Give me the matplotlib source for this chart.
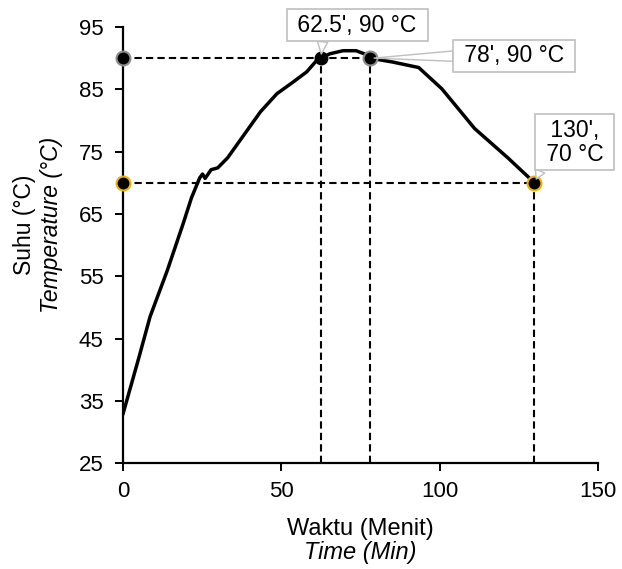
import matplotlib.pyplot as plt

plt.rcParams['font.family'] = ['Liberation Sans', 'DejaVu Sans']

# temperature profile
time_min = [0, 5, 8.5, 14, 19, 21.6, 24.2, 25.1, 25.9, 27.8, 29.9, 33, 38.2, 43.4, 48.6,
            53.8, 58, 61.1, 62.5, 65.3, 69.5, 73.6, 76.2, 78, 85, 93.4, 100.7, 111.1, 121.6, 130]
temp_c = [33, 42, 48.5, 56, 63.5, 67.6, 70.8, 71.4, 70.7, 72.1, 72.4, 74, 77.7, 81.4, 84.3,
          86.2, 87.8, 89.6, 90, 90.7, 91.2, 91.2, 90.7, 90, 89.4, 88.5, 85.1, 78.7, 74, 70]

# marked points and their callouts
mark_t = [62.5, 78, 130]
mark_T = [90, 90, 70]
mark_labels = [" 62.5', 90 °C ", " 78', 90 °C ", " 130', \n 70 °C "]
label_pos = [(74.0, 95.3), (123.6, 90.35), (142.7, 76.5)]
label_rel = [(0.24, 0.0), (0.0, 0.5), (0.04, 0.0)]

fig = plt.figure(figsize=(6.22, 5.69), dpi=100)
ax = fig.add_axes([0.198, 0.186, 0.763, 0.7665])

dash = dict(color='black', lw=1.5, linestyle=(0, (3.5, 2)), zorder=2)
# horizontal guides
ax.plot([0, 78], [90, 90], **dash)
ax.plot([0, 130], [70, 70], **dash)
# vertical guides
for t, T in zip(mark_t, mark_T):
    ax.plot([t, t], [25, T], **dash)

ax.plot(time_min, temp_c, color='black', lw=2.5, zorder=3)

ax.plot([0], [90], 'o', ms=10, mfc='black', mec='#8c8c8c', mew=1.5, zorder=5, clip_on=False)
ax.plot([0], [70], 'o', ms=10, mfc='black', mec='#f0b400', mew=1.5, zorder=5, clip_on=False)
ax.plot([62.5], [90], 'o', ms=9, mfc='black', mec='black', zorder=5)
ax.plot([78], [90], 'o', ms=10, mfc='black', mec='#8c8c8c', mew=1.5, zorder=5)
ax.plot([130], [70], 'o', ms=10, mfc='black', mec='#f0b400', mew=1.5, zorder=5)

for t, T, lab, pos, rel in zip(mark_t, mark_T, mark_labels, label_pos, label_rel):
    ax.annotate(lab, xy=(t, T), xytext=pos, ha='center', va='center', fontsize=16.5,
                linespacing=1.05, annotation_clip=False, zorder=6,
                bbox=dict(boxstyle='square,pad=0.2', fc='white', ec='#bfbfbf', lw=1.2),
                arrowprops=dict(arrowstyle='wedge,tail_width=0.45', fc='white', ec='#bfbfbf',
                                lw=1.0, relpos=rel, shrinkA=0, shrinkB=3))

ax.set_xlim(0, 150)
ax.set_ylim(25, 95)
ax.set_xticks([0, 50, 100, 150])
ax.set_yticks(range(25, 96, 10))
ax.tick_params(axis='both', labelsize=16, length=6, width=1.4, direction='out')
ax.tick_params(axis='y', pad=8)
ax.tick_params(axis='x', pad=7)
ax.spines['top'].set_visible(False)
ax.spines['right'].set_visible(False)
ax.spines['left'].set_linewidth(1.6)
ax.spines['bottom'].set_linewidth(1.6)

fig.text(360 / 622, 1 - 529 / 569, 'Waktu (Menit)', ha='center', va='center', fontsize=17)
fig.text(360 / 622, 1 - 552 / 569, 'Time (Min)', ha='center', va='center', fontsize=17, style='italic')
fig.text(24 / 622, 1 - 225 / 569, 'Suhu (°C)', ha='center', va='center', fontsize=16.5, rotation=90)
fig.text(52 / 622, 1 - 225 / 569, 'Temperature (°C)', ha='center', va='center', fontsize=16.5,
         rotation=90, style='italic')

fig.savefig('out.png', dpi=100)
